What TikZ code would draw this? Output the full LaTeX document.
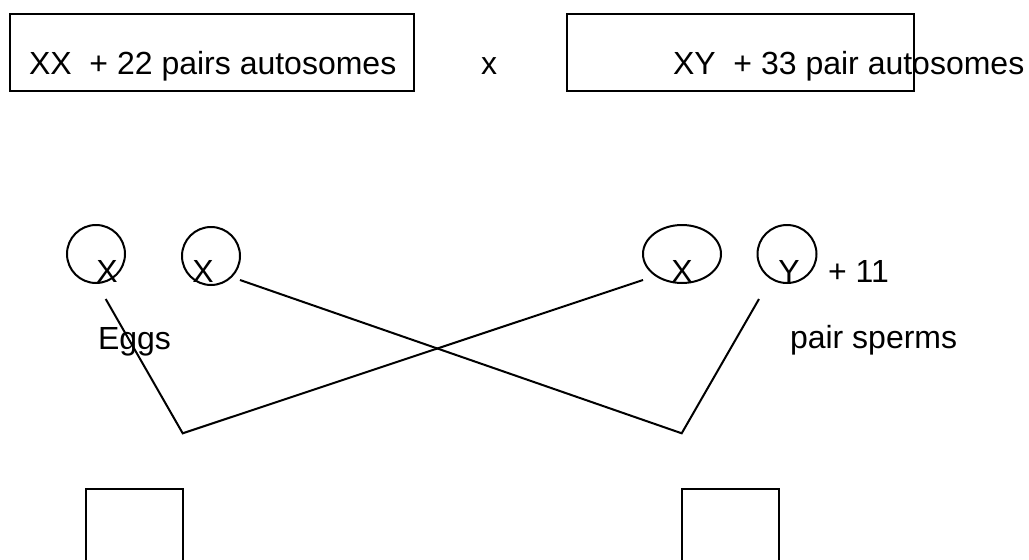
\documentclass[tikz,border=0pt]{standalone}
\usepackage{fontspec}
\setmainfont{Liberation Sans}
\usetikzlibrary{shapes.geometric}
\begin{document}
\begin{tikzpicture}[x=1pt,y=-1pt,
  line width=2pt,
  txt/.style={inner sep=0pt,font=\fontsize{32}{36}\selectfont},
  parentbox/.style={draw,rectangle,inner sep=0pt,anchor=north west},
  gamete/.style={draw,ellipse,inner sep=0pt,minimum height=58pt},
  child/.style={line width=2pt}]
\useasboundingbox (0,0) rectangle (1029,560);
% parent boxes
\node[parentbox,minimum width=404pt,minimum height=77pt] (mom) at (9,13) {};
\node[parentbox,minimum width=347pt,minimum height=77pt] (dad) at (566,13) {};
\node[txt,anchor=base west] (momtxt) at (28,74) {XX~~+ 22 pairs autosomes};
\node[txt,anchor=base west] (cross) at (480,74) {x};
\node[txt,anchor=base west] (dadtxt) at (672,74) {XY~~+ 33 pair autosomes};
% gametes
\node[gamete,minimum width=58pt] (e1) at (96,254) {};
\node[gamete,minimum width=58pt] (e2) at (211,256) {};
\node[gamete,minimum width=78pt] (s1) at (682,254) {};
\node[gamete,minimum width=59pt] (s2) at (787,254) {};
\node[txt,anchor=base] (e1t) at (107,282) {X};
\node[txt,anchor=base] (e2t) at (203,282) {X};
\node[txt,anchor=base] (s1t) at (682,282) {X};
\node[txt,anchor=base] (s2t) at (789,282) {Y};
\node[txt,anchor=base west] (plus) at (827,282) {+ 11};
\node[txt,anchor=base west] (eggs) at (97,349) {Eggs};
\node[txt,anchor=base west] (sperms) at (789,348) {pair sperms};
% connector end points
\coordinate (a1) at (105.7,299);
\coordinate (v1) at (182.7,433.3);
\coordinate (a2) at (643,280);
\coordinate (b1) at (240,280);
\coordinate (v2) at (681.7,433.3);
\coordinate (b2) at (759,299);
\draw (a1) -- (v1) -- (a2);
\draw (b1) -- (v2) -- (b2);
% offspring boxes (open at the bottom edge of the picture)
\coordinate (k1a) at (86,562);
\coordinate (k1b) at (86,489);
\coordinate (k1c) at (183,489);
\coordinate (k1d) at (183,562);
\coordinate (k2a) at (682,562);
\coordinate (k2b) at (682,489);
\coordinate (k2c) at (779,489);
\coordinate (k2d) at (779,562);
\draw[child] (k1a) -- (k1b) -- (k1c) -- (k1d);
\draw[child] (k2a) -- (k2b) -- (k2c) -- (k2d);
\end{tikzpicture}
\end{document}
